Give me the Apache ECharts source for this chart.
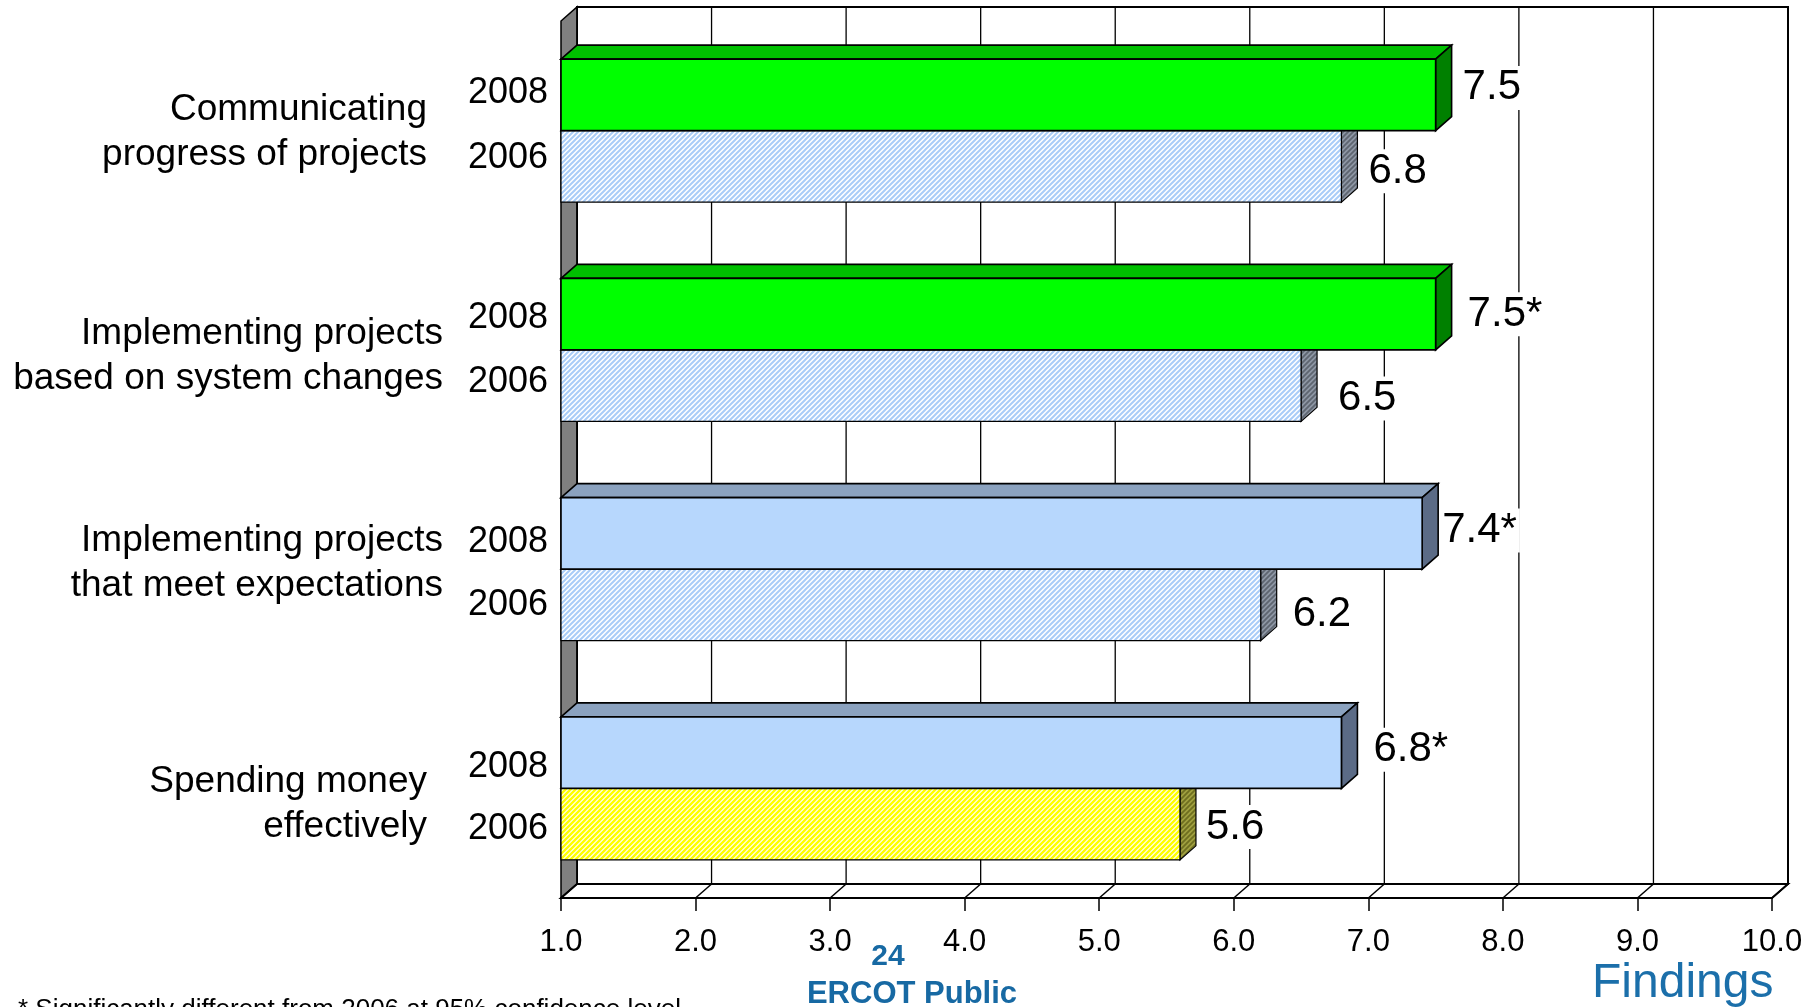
<!DOCTYPE html>
<html><head><meta charset="utf-8">
<script src="https://cdn.jsdelivr.net/npm/echarts@6/dist/echarts.min.js"></script>
<style>html,body{margin:0;padding:0;background:#fff}#c{width:1812px;height:1007px}</style>
</head><body><div id="c"></div>
<script>
// ---------- data ----------
const categories = ['Communicating\nprogress of projects', 'Implementing projects\nbased on system changes', 'Implementing projects\nthat meet expectations', 'Spending money\neffectively'];
const years = ['2008', '2006'];
const values2008 = [7.5, 7.5, 7.4, 6.8];
const values2006 = [6.8, 6.5, 6.2, 5.6];
const significant2008 = [false, true, true, true];
const xTicks = [1, 2, 3, 4, 5, 6, 7, 8, 9, 10];
const footnote = '* Significantly different from 2006 at 95% confidence level';
const pageNumber = '24';
const classification = 'ERCOT Public';
const sectionTitle = 'Findings';

// ---------- style (layout tweaks per category, not data) ----------
const FONT = '"Liberation Sans", Arial, sans-serif';
const DX = 16, DY = 14, BAR_FRAC = 0.326;
const nameDy = [2, 6, -6, 16];          // vertical shift of category name block
const nameRight = [134, 118, 118, 134];  // distance of name right edge from axis
const yearDy2008 = [-2, 4, 9, 14], yearDy2006 = [-8, -4, 0, 5];
const labDy2008 = [-7, 0, -3, -3], labDy2006 = [5, 13, 10, 3];
const labDx2008 = [8, 13, 1, 13], labDx2006 = [8, 18, 13, 7];

function hatch(bg, fg, size, lw) {
  const c = document.createElement('canvas');
  c.width = c.height = size;
  const g = c.getContext('2d');
  g.fillStyle = bg; g.fillRect(0, 0, size, size);
  g.strokeStyle = fg; g.lineWidth = lw;
  g.beginPath();
  g.moveTo(-1, 1); g.lineTo(1, -1);
  g.moveTo(0, size); g.lineTo(size, 0);
  g.moveTo(size - 1, size + 1); g.lineTo(size + 1, size - 1);
  g.stroke();
  return { image: c, repeat: 'repeat' };
}
const GREEN = { front: '#00FF00', top: '#00C000', side: '#008000' };
const BLUE = { front: '#B7D7FD', top: '#8BA2BF', side: '#5B6B86' };
const BLUE_HATCH = { front: hatch('#FFFFFF', '#A9CCF8', 5, 2.0), top: hatch('#C0C8D4', '#8C95A3', 5, 1.8), side: hatch('#8E97A5', '#5E6570', 5, 1.8) };
const YELLOW_HATCH = { front: hatch('#FFFFFF', '#FFFF00', 5, 2.4), top: hatch('#C8C860', '#9A9A3C', 5, 1.8), side: hatch('#A0A040', '#6E6E20', 5, 1.8) };
const palette2008 = [GREEN, GREEN, BLUE, BLUE];
const palette2006 = [BLUE_HATCH, BLUE_HATCH, BLUE_HATCH, YELLOW_HATCH];

function poly(points, fill, lw) {
  return { type: 'polygon', shape: { points }, style: { fill, stroke: '#000', lineWidth: lw, lineJoin: 'miter' } };
}

function makeBarRenderer(upper) {
  return function (params, api) {
    const v = api.value(0), i = api.value(1);
    const p1 = api.coord([v, i]);
    const p0 = api.coord([xTicks[0], i]);
    const band = api.size([0, 1])[1];
    const h = band * BAR_FRAC;
    const cy = p1[1];
    const top = upper ? cy - h : cy;
    const bot = top + h;
    const x0 = p0[0], x1 = p1[0];
    const pal = upper ? palette2008[i] : palette2006[i];
    const lw = upper ? 1.6 : 1.2;
    const mid = (top + bot) / 2;
    const label = v.toFixed(1) + (upper && significant2008[i] ? '*' : '');
    const children = [
      poly([[x0, top], [x0 + DX, top - DY], [x1 + DX, top - DY], [x1, top]], pal.top, lw),
      poly([[x1, top], [x1 + DX, top - DY], [x1 + DX, bot - DY], [x1, bot]], pal.side, lw),
      { type: 'rect', shape: { x: x0, y: top, width: x1 - x0, height: h }, style: { fill: pal.front, stroke: '#000', lineWidth: lw } },
      { type: 'text', x: x1 + DX + (upper ? labDx2008[i] : labDx2006[i]), y: mid + (upper ? labDy2008[i] : labDy2006[i]),
        style: { text: label, font: '42px ' + FONT, fill: '#000', align: 'left', verticalAlign: 'middle', backgroundColor: '#fff', padding: [2, 3, 0, 3] } },
      { type: 'text', x: x0 - 13, y: mid + (upper ? yearDy2008[i] : yearDy2006[i]),
        style: { text: upper ? years[0] : years[1], font: '36px ' + FONT, fill: '#000', align: 'right', verticalAlign: 'middle' } }
    ];
    if (upper) {
      children.push({ type: 'text', x: x0 - nameRight[i], y: cy + nameDy[i],
        style: { text: categories[i], font: '37px ' + FONT, lineHeight: 45, fill: '#000', align: 'right', verticalAlign: 'middle' } });
    }
    return { type: 'group', children };
  };
}

function renderWalls(params, api) {
  const cs = params.coordSys;
  const L = cs.x, R = cs.x + cs.width, T = cs.y, B = cs.y + cs.height;
  return {
    type: 'group',
    children: [
      { type: 'rect', shape: { x: L + DX, y: T - DY, width: R - L, height: B - T }, style: { fill: '#fff', stroke: '#000', lineWidth: 2 } },
      poly([[L, T], [L + DX, T - DY], [L + DX, B - DY], [L, B]], '#808080', 1.5),
      poly([[L, B], [L + DX, B - DY], [R + DX, B - DY], [R, B]], '#fff', 2)
    ]
  };
}

function renderGrid(params, api) {
  const cs = params.coordSys;
  const T = cs.y, B = cs.y + cs.height;
  const x = api.coord([api.value(0), 0])[0];
  return {
    type: 'group',
    children: [
      { type: 'line', shape: { x1: x + DX, y1: T - DY, x2: x + DX, y2: B - DY }, style: { stroke: '#000', lineWidth: 1.3 } },
      { type: 'line', shape: { x1: x, y1: B, x2: x + DX, y2: B - DY }, style: { stroke: '#000', lineWidth: 1.5 } }
    ]
  };
}

const chart = echarts.init(document.getElementById('c'), null, { renderer: 'canvas' });
chart.setOption({
  animation: false,
  backgroundColor: '#fff',
  grid: { left: 561, right: 40, top: 21, bottom: 109, containLabel: false },
  xAxis: {
    type: 'value', min: 1, max: 10, interval: 1,
    axisLine: { show: true, lineStyle: { color: '#000', width: 2 } },
    axisTick: { show: true, length: 13, lineStyle: { color: '#000', width: 1.5 } },
    splitLine: { show: false },
    axisLabel: { fontSize: 31, fontFamily: FONT, color: '#000', margin: 29, formatter: v => v.toFixed(1) }
  },
  yAxis: {
    type: 'category', inverse: true, data: categories,
    axisLine: { show: false }, axisTick: { show: false }, splitLine: { show: false },
    axisLabel: { show: false }
  },
  series: [
    { type: 'custom', z: 1, renderItem: renderWalls, data: [[xTicks[0], 0]], silent: true },
    { type: 'custom', z: 2, renderItem: renderGrid, data: xTicks.map(v => [v, 0]), silent: true },
    { type: 'custom', z: 3, name: years[1], renderItem: makeBarRenderer(false), data: values2006.map((v, i) => [v, i]), encode: { x: 0, y: 1 } },
    { type: 'custom', z: 4, name: years[0], renderItem: makeBarRenderer(true), data: values2008.map((v, i) => [v, i]), encode: { x: 0, y: 1 } }
  ],
  graphic: [
    { type: 'text', left: 18, top: 997, style: { text: footnote, font: '26px ' + FONT, fill: '#000' } },
    { type: 'text', x: 888, y: 957, style: { text: pageNumber, font: 'bold 30px ' + FONT, fill: '#1769A3', align: 'center', verticalAlign: 'middle' } },
    { type: 'text', x: 912, y: 994, style: { text: classification, font: 'bold 31px ' + FONT, fill: '#1769A3', align: 'center', verticalAlign: 'middle' } },
    { type: 'text', x: 1592, y: 984, style: { text: sectionTitle, font: '48px ' + FONT, fill: '#1B6FAA', align: 'left', verticalAlign: 'middle' } }
  ]
});
</script></body></html>
